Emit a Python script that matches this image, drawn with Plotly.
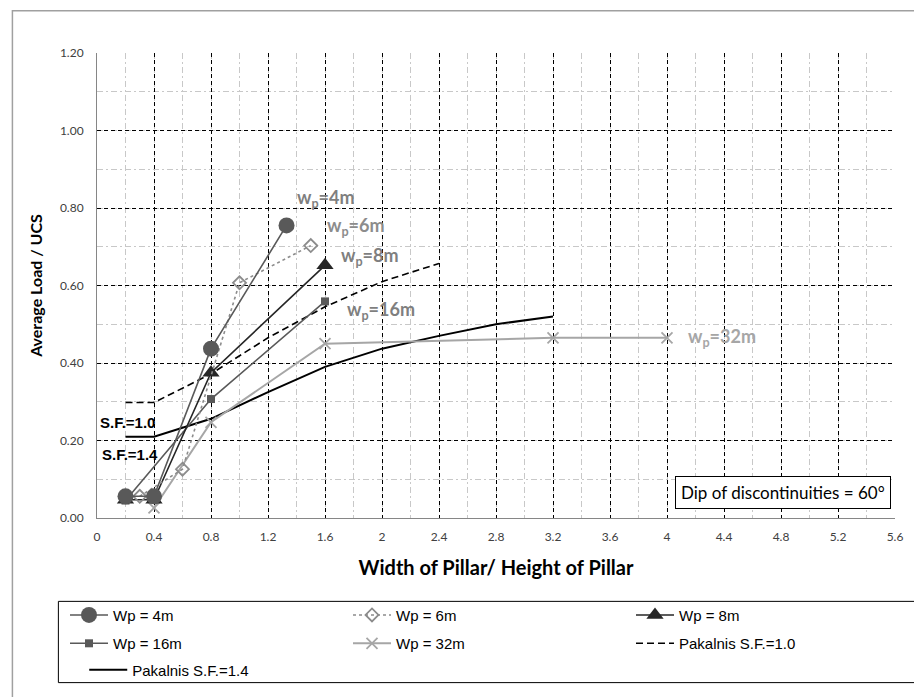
import plotly.graph_objects as go

# ---- data ----
x_4m = [0.2, 0.4, 0.8, 1.33]
y_4m = [0.056, 0.056, 0.437, 0.755]

x_6m = [0.3, 0.6, 1.0, 1.5]
y_6m = [0.056, 0.126, 0.607, 0.703]

x_8m = [0.2, 0.4, 0.8, 1.6]
y_8m = [0.047, 0.047, 0.375, 0.652]

x_16m = [0.2, 0.8, 1.6]
y_16m = [0.045, 0.307, 0.559]

x_32m = [0.4, 0.8, 1.6, 3.2, 4.0]
y_32m = [0.026, 0.247, 0.45, 0.465, 0.465]

x_sf10 = [0.2, 0.4, 0.8, 1.2, 1.6, 2.0, 2.4]
y_sf10 = [0.298, 0.298, 0.372, 0.465, 0.545, 0.61, 0.657]

x_sf14 = [0.2, 0.4, 0.8, 1.2, 1.6, 2.0, 2.4, 2.8, 3.2]
y_sf14 = [0.21, 0.21, 0.256, 0.325, 0.39, 0.437, 0.47, 0.50, 0.52]

series_names = ["Wp = 4m", "Wp = 6m", "Wp = 8m", "Wp = 16m", "Wp = 32m",
                "Pakalnis S.F.=1.0", "Pakalnis S.F.=1.4"]

curve_labels = ["w<sub>p</sub>=4m", "w<sub>p</sub>=6m", "w<sub>p</sub>=8m",
                "w<sub>p</sub>=16m", "w<sub>p</sub>=32m"]
curve_label_x = [1.39, 1.60, 1.70, 1.74, 4.13]
curve_label_y = [0.825, 0.752, 0.675, 0.535, 0.465]
curve_label_colors = ["#7f7f7f", "#8c8c8c", "#7f7f7f", "#7f7f7f", "#a6a6a6"]

x_ticks = [0, 0.4, 0.8, 1.2, 1.6, 2, 2.4, 2.8, 3.2, 3.6, 4, 4.4, 4.8, 5.2, 5.6]
y_ticks = [0, 0.2, 0.4, 0.6, 0.8, 1.0, 1.2]

LEG_FONT = dict(family="Liberation Sans, Arial, sans-serif", size=15, color="#000000")

fig = go.Figure()

fig.add_trace(go.Scatter(
    x=x_sf10, y=y_sf10, mode="lines", name=series_names[5], legend="legend2",
    line=dict(color="#000000", width=1.6, dash="7px,4px")))
fig.add_trace(go.Scatter(
    x=x_sf14, y=y_sf14, mode="lines", name=series_names[6], legend="legend3",
    line=dict(color="#000000", width=2)))
fig.add_trace(go.Scatter(
    x=x_32m, y=y_32m, mode="lines+markers", name=series_names[4], legend="legend2",
    line=dict(color="#a6a6a6", width=2),
    marker=dict(symbol="x-thin-open", size=11, color="#a6a6a6",
                line=dict(color="#a6a6a6", width=1.8))))
fig.add_trace(go.Scatter(
    x=x_16m, y=y_16m, mode="lines+markers", name=series_names[3], legend="legend2",
    line=dict(color="#595959", width=1.6),
    marker=dict(symbol="square", size=8, color="#595959")))
fig.add_trace(go.Scatter(
    x=x_8m, y=y_8m, mode="lines+markers", name=series_names[2], legend="legend",
    line=dict(color="#262626", width=1.6),
    marker=dict(symbol="triangle-up", size=15, color="#262626")))
fig.add_trace(go.Scatter(
    x=x_6m, y=y_6m, mode="lines+markers", name=series_names[1], legend="legend",
    line=dict(color="#8c8c8c", width=1.6, dash="dot"),
    marker=dict(symbol="diamond-open", size=10, color="#8c8c8c",
                line=dict(color="#8c8c8c", width=1.8))))
fig.add_trace(go.Scatter(
    x=x_4m, y=y_4m, mode="lines+markers", name=series_names[0], legend="legend",
    line=dict(color="#595959", width=1.6),
    marker=dict(symbol="circle", size=16, color="#595959")))

annotations = []
for t, xx, yy, c in zip(curve_labels, curve_label_x, curve_label_y, curve_label_colors):
    annotations.append(dict(
        x=xx, y=yy, xref="x", yref="y", text="<b>" + t + "</b>", showarrow=False,
        xanchor="left", yanchor="middle",
        font=dict(family="Lato, Open Sans, sans-serif", size=18, color=c)))

annotations.append(dict(x=0.005, y=0.247, xref="x", yref="y", text="<b>S.F.=1.0</b>",
                        showarrow=False, xanchor="left", yanchor="middle",
                        font=dict(family="Liberation Sans, Arial", size=15, color="#000")))
annotations.append(dict(x=0.02, y=0.163, xref="x", yref="y", text="<b>S.F.=1.4</b>",
                        showarrow=False, xanchor="left", yanchor="middle",
                        font=dict(family="Liberation Sans, Arial", size=15, color="#000")))
annotations.append(dict(x=5.57, y=0.024, xref="x", yref="y",
                        text="Dip of discontinuities = 60°", showarrow=False,
                        xanchor="right", yanchor="bottom",
                        bgcolor="#ffffff", bordercolor="#000000", borderwidth=1, borderpad=5,
                        font=dict(family="Lato, Open Sans, sans-serif", size=17, color="#000")))

shapes = [
    # outer chart border
    dict(type="rect", xref="paper", yref="paper", x0=-0.106, x1=1.05, y0=-0.6, y1=1.091,
         line=dict(color="#a0a0a0", width=1.5), layer="below"),
    # legend box
    dict(type="rect", xref="paper", yref="paper", x0=-0.0484, x1=1.0546, y0=-0.354, y1=-0.1793,
         line=dict(color="#000000", width=1), layer="below"),
]

leg_common = dict(orientation="h", xanchor="left", yanchor="middle",
                  font=LEG_FONT, itemwidth=38, entrywidth=230, itemsizing="trace",
                  bgcolor="rgba(0,0,0,0)", borderwidth=0, traceorder="reversed")

fig.update_layout(
    width=914, height=697,
    margin=dict(l=97, r=11, t=53, b=170),
    paper_bgcolor="#ffffff", plot_bgcolor="#ffffff",
    font=dict(family="Lato, Open Sans, sans-serif", color="#000000"),
    xaxis=dict(range=[0, 5.6], tickvals=x_ticks, ticks="", showline=True,
               linecolor="#868686", linewidth=1, zeroline=False, mirror=False,
               showgrid=True, gridcolor="#000000", gridwidth=1, griddash="4px,3px",
               minor=dict(dtick=0.2, showgrid=True, gridcolor="#c8c8c8", gridwidth=1,
                          griddash="6px,3px,2px,3px"),
               tickfont=dict(family="Lato, sans-serif", size=12, color="#404040"),
               ticklabelstandoff=8,
               title=dict(text="<b>Width of Pillar/ Height of Pillar</b>", standoff=17,
                          font=dict(family="Lato, Open Sans, sans-serif", size=20, color="#000"))),
    yaxis=dict(range=[0, 1.2], tickvals=y_ticks, tickformat=".2f", ticks="", showline=True,
               linecolor="#868686", linewidth=1, zeroline=False,
               showgrid=True, gridcolor="#000000", gridwidth=1, griddash="4px,3px",
               minor=dict(dtick=0.1, showgrid=True, gridcolor="#c8c8c8", gridwidth=1,
                          griddash="6px,3px,2px,3px"),
               tickfont=dict(family="Lato, sans-serif", size=12, color="#404040"),
               ticklabelstandoff=10,
               title=dict(text="<b>Average Load / UCS</b>", standoff=13,
                          font=dict(family="Lato, Open Sans, sans-serif", size=16, color="#000"))),
    legend=dict(x=-0.016, y=-0.209, **leg_common),
    legend2=dict(x=-0.016, y=-0.27, **leg_common),
    legend3=dict(x=-0.016, y=-0.327, **leg_common),
    annotations=annotations,
    shapes=shapes,
    showlegend=True,
)

fig.write_html("out.html", config={"displayModeBar": False},
               post_script="document.body.style.margin='0';document.body.style.overflow='hidden';")
